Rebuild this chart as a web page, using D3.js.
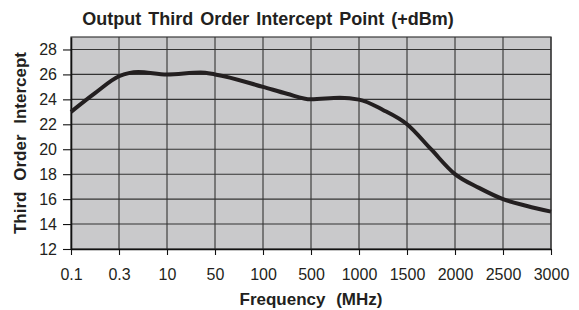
<!DOCTYPE html>
<html>
<head>
<meta charset="utf-8">
<script src="https://cdn.jsdelivr.net/npm/d3@7"></script>
<style>
  body { margin: 0; background: #fff; }
  text { font-family: "Liberation Sans", Arial, sans-serif; fill: #231f20; }
</style>
</head>
<body>
<div id="chart"></div>
<script>
// category labels along the x axis (equally spaced, not a real log scale)
let freq_labels = ["0.1", "0.3", "10", "50", "100", "500", "1000", "1500", "2000", "2500", "3000"]
let y_ticks = [12, 14, 16, 18, 20, 22, 24, 26, 28]

// curve: position in category steps and IP3 in dBm
let curve_pos = [0, 0.5, 1, 1.4, 2, 2.7, 3, 4, 4.5, 5, 5.6, 6, 6.5, 7, 7.5, 8, 8.5, 9, 9.5, 10]
let curve_ip3 = [23.0, 24.5, 25.85, 26.2, 26.0, 26.15, 26.0, 25.0, 24.45, 24.0, 24.12, 23.98, 23.15, 22.0, 20.0, 18.0, 16.9, 16.0, 15.45, 15.0]

let width = 579,
    height = 310,
    margin = { top: 37, right: 28, bottom: 61, left: 71 }

let x = d3.scaleLinear()
    .domain([0, freq_labels.length - 1])
    .range([margin.left, width - margin.right])

let y = d3.scaleLinear()
    .domain([12, 29])
    .range([height - margin.bottom, margin.top])

let svg = d3.select("#chart").append("svg")
    .attr("width", width)
    .attr("height", height)

// plot area
svg.append("rect")
    .attr("x", x(0))
    .attr("y", y(29))
    .attr("width", x(10) - x(0))
    .attr("height", y(12) - y(29))
    .style("fill", "#c9c9cb")
    .style("stroke", "#3a3a3a")
    .style("stroke-width", 1.2)

// grid
svg.append("g")
    .selectAll("line.hgrid")
    .data(y_ticks.slice(1)).enter()
      .append("line")
        .attr("x1", x(0))
        .attr("x2", x(10))
        .attr("y1", function(d) { return y(d) })
        .attr("y2", function(d) { return y(d) })
        .style("stroke", "#333")
        .style("stroke-width", 1.1)

svg.append("g")
    .selectAll("line.vgrid")
    .data(d3.range(1, freq_labels.length)).enter()
      .append("line")
        .attr("x1", function(d) { return x(d) })
        .attr("x2", function(d) { return x(d) })
        .attr("y1", y(12))
        .attr("y2", y(29))
        .style("stroke", "#333")
        .style("stroke-width", 1.1)

// axes
let x_axis = d3.axisBottom(x)
    .tickValues(d3.range(freq_labels.length))
    .tickFormat(function(i) { return freq_labels[i] })
    .tickSize(6)
    .tickSizeOuter(0)
    .tickPadding(14)

let y_axis = d3.axisLeft(y)
    .tickValues(y_ticks)
    .tickSize(8)
    .tickSizeOuter(0)
    .tickPadding(6)

let gx = svg.append("g")
    .attr("transform", "translate(0," + y(12) + ")")
    .call(x_axis)
let gy = svg.append("g")
    .attr("transform", "translate(" + x(0) + ",0)")
    .call(y_axis)

;[gx, gy].forEach(function(g) {
  g.select(".domain").style("stroke", "#111").style("stroke-width", 1.6)
  g.selectAll(".tick line").style("stroke", "#111").style("stroke-width", 1.1)
  g.selectAll(".tick text")
      .style("font-size", "16px")
      .style("font-family", "'Liberation Sans', Arial, sans-serif")
      .style("fill", "#231f20")
})

// curve
let line = d3.line()
    .x(function(d, i) { return x(curve_pos[i]) })
    .y(function(d) { return y(d) })
    .curve(d3.curveMonotoneX)

svg.append("path")
    .datum(curve_ip3)
    .attr("d", line)
    .style("fill", "none")
    .style("stroke", "#231f20")
    .style("stroke-width", 4)
    .style("stroke-linejoin", "round")

// titles
svg.append("text")
    .attr("x", 268)
    .attr("y", 25)
    .attr("text-anchor", "middle")
    .style("font-size", "18px")
    .style("font-weight", "bold")
    .style("word-spacing", "2px")
    .text("Output Third Order Intercept Point (+dBm)")

svg.append("text")
    .attr("x", (x(0) + x(10)) / 2)
    .attr("y", 305)
    .attr("text-anchor", "middle")
    .style("font-size", "17px")
    .style("font-weight", "bold")
    .style("word-spacing", "6px")
    .text("Frequency (MHz)")

svg.append("text")
    .attr("transform", "translate(26," + (y(12) + y(29)) / 2 + ") rotate(-90)")
    .attr("text-anchor", "middle")
    .style("font-size", "17px")
    .style("font-weight", "bold")
    .style("word-spacing", "6px")
    .text("Third Order Intercept")
</script>
</body>
</html>
